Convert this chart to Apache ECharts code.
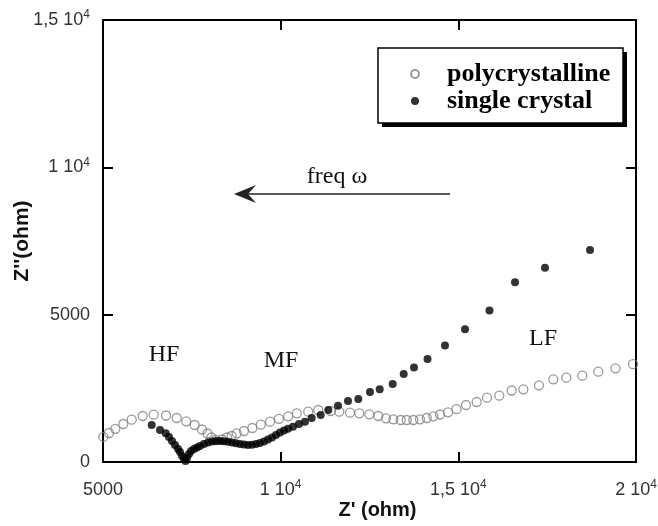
<!DOCTYPE html>
<html>
<head>
<meta charset="utf-8">
<script src="https://cdn.jsdelivr.net/npm/echarts@6/dist/echarts.min.js"></script>
<style>
html,body{margin:0;padding:0;background:#fff}
#main{width:658px;height:526px}
</style>
</head>
<body>
<div id="main"></div>
<script>
// 多晶数据 (Z', Z'')
var polyX=[5010,5169,5346,5571,5808,6117,6427,6773,7074,7341,7581,7786,7941,8053,8180,8349,8490,8622,8763,8968,9202,9441,9700,9953,10212,10454,10775,11059,11408,11650,11951,12213,12494,12748,12964,13170,13378,13547,13733,13921,14110,14296,14484,14709,14949,15216,15517,15807,16153,16502,16829,17270,17673,18039,18489,18939,19423,19916];
var polyY=[850,984,1127,1290,1436,1561,1605,1578,1493,1381,1256,1103,967,831,747,764,831,882,974,1052,1154,1266,1368,1466,1551,1653,1707,1765,1731,1707,1673,1653,1619,1561,1483,1449,1425,1425,1425,1449,1493,1551,1612,1687,1792,1934,2036,2182,2250,2427,2467,2603,2807,2861,2929,3065,3180,3319];
// 单晶数据
var singleX=[6371,6604,6765,6857,6942,7026,7111,7167,7223,7280,7322,7364,7420,7477,7561,7645,7730,7842,7955,8068,8180,8293,8405,8518,8630,8743,8856,8968,9081,9193,9306,9418,9531,9644,9756,9869,9981,10094,10206,10347,10516,10685,10873,11127,11341,11614,11895,12185,12514,12787,13153,13463,13752,14132,14625,15188,15877,16595,17439,18706];
var singleY=[1256,1086,974,848,713,577,441,339,204,102,30,136,271,373,441,492,543,611,662,696,713,713,702,686,662,635,611,594,577,587,611,645,696,764,831,916,1001,1069,1130,1198,1290,1368,1493,1595,1765,1907,2070,2138,2376,2467,2647,2986,3207,3496,3954,4503,5141,6098,6594,7195];
var seriesNames=["polycrystalline","single crystal"];
// 刻度
var xTicks=[5000,10000,15000,20000];
var xTickLabels=["5000","1 10^4","1,5 10^4","2 10^4"];
var yTicks=[0,5000,10000,15000];
var yTickLabels=["0","5000","1 10^4","1,5 10^4"];
// 标注 (数据坐标)
var notes=[
  {text:"HF",x:6717,y:3631},
  {text:"MF",x:10009,y:3428},
  {text:"LF",x:17383,y:4174},
  {text:"freq ω",x:11585,y:9672}
];
var arrowFrom=[14766,9095];
var arrowTo=[8687,9095];

var zip=function(a,b){
  var out=[];
  for(var i=0;i<a.length;i++){out.push([a[i],b[i]]);}
  return out;
}
// 10^4 上标
var tickFmt=function(ticks,labels){
  return function(v){
    var i=ticks.indexOf(v);
    if(i<0)return "";
    var p=labels[i].split("^");
    return p.length>1 ? "{n|"+p[0]+"}{e|"+p[1]+"}" : "{n|"+p[0]+"}";
  }
}
var tickRich={
  n:{fontSize:18,lineHeight:22,color:"#333",fontFamily:"Liberation Sans"},
  e:{fontSize:12,lineHeight:12,verticalAlign:"top",color:"#333",fontFamily:"Liberation Sans"}
};
var lineSty={color:"#000",width:2};

var chart=echarts.init(document.getElementById("main"));
chart.setOption({
  animation:false,
  backgroundColor:"#fff",
  grid:{left:103,right:22,top:20,bottom:64,containLabel:false,outerBoundsMode:"none"},
  legend:{
    data:seriesNames,
    orient:"vertical",
    left:410,
    top:61,
    padding:0,
    itemGap:1,
    itemWidth:8,
    itemHeight:8,
    icon:"circle",
    z:6,
    formatter:function(name){return "{t|"+name+"}";},
    textStyle:{
      rich:{t:{fontFamily:"Liberation Serif",fontWeight:"bold",fontSize:26,lineHeight:26,color:"#000",padding:[0,0,0,23]}}
    }
  },
  xAxis:[
    {
      type:"value",min:5000,max:20000,interval:5000,position:"bottom",
      axisLine:{onZero:false,lineStyle:lineSty},
      axisTick:{inside:true,length:10,lineStyle:lineSty},
      splitLine:{show:false},
      axisLabel:{margin:17,formatter:tickFmt(xTicks,xTickLabels),rich:tickRich},
      name:"Z' (ohm)",nameLocation:"middle",nameGap:38,nameMoveOverlap:false,
      nameTextStyle:{fontFamily:"Liberation Sans",fontWeight:"bold",fontSize:20,color:"#111",padding:[0,0,0,16]}
    },
    {
      type:"value",min:5000,max:20000,interval:5000,position:"top",
      axisLine:{onZero:false,lineStyle:lineSty},
      axisTick:{inside:true,length:10,lineStyle:lineSty},
      splitLine:{show:false},axisLabel:{show:false}
    }
  ],
  yAxis:[
    {
      type:"value",min:0,max:15000,interval:5000,position:"left",
      axisLine:{onZero:false,lineStyle:lineSty},
      axisTick:{inside:true,length:10,lineStyle:lineSty},
      splitLine:{show:false},
      axisLabel:{margin:13,formatter:tickFmt(yTicks,yTickLabels),rich:tickRich},
      name:"Z''(ohm)",nameLocation:"middle",nameGap:70,nameMoveOverlap:false,
      nameTextStyle:{fontFamily:"Liberation Sans",fontWeight:"bold",fontSize:21,color:"#111"}
    },
    {
      type:"value",min:0,max:15000,interval:5000,position:"right",
      axisLine:{onZero:false,lineStyle:lineSty},
      axisTick:{inside:true,length:10,lineStyle:lineSty},
      splitLine:{show:false},axisLabel:{show:false}
    }
  ],
  series:[
    {
      name:seriesNames[0],type:"scatter",xAxisIndex:0,yAxisIndex:0,
      data:zip(polyX,polyY),symbol:"circle",symbolSize:9,clip:false,z:2,
      itemStyle:{color:"rgba(255,255,255,0)",borderColor:"#808080",borderWidth:1.3},
      emphasis:{disabled:true}
    },
    {
      name:seriesNames[1],type:"scatter",xAxisIndex:0,yAxisIndex:0,
      data:zip(singleX,singleY),symbol:"circle",symbolSize:8,clip:false,z:3,
      itemStyle:{color:"#000"},
      emphasis:{disabled:true}
    }
  ]
});

// 标注文字与箭头
var toPx=function(p){return chart.convertToPixel({xAxisIndex:0,yAxisIndex:0},p);}
var graphics=[];
// 图例框和阴影
graphics.push({type:"rect",z:4,shape:{x:382,y:52,width:245,height:75},style:{fill:"#000"}});
graphics.push({type:"rect",z:5,shape:{x:378,y:48,width:245,height:75},style:{fill:"#fff",stroke:"#000",lineWidth:1.5}});
notes.forEach(function(item){
  var p=toPx([item.x,item.y]);
  graphics.push({
    type:"text",x:p[0],y:p[1],z:10,
    style:{text:item.text,font:'24px "Liberation Serif"',fill:"#111",
      textAlign:"center",textVerticalAlign:"middle",align:"center",verticalAlign:"middle"}
  });
});
var a0=toPx(arrowFrom),a1=toPx(arrowTo);
graphics.push({
  type:"line",z:10,
  shape:{x1:a0[0],y1:a0[1],x2:a1[0]+10,y2:a1[1]},
  style:{stroke:"#222",lineWidth:1.6}
});
graphics.push({
  type:"polygon",z:10,
  shape:{points:[[a1[0],a1[1]],[a1[0]+22,a1[1]-9],[a1[0]+14,a1[1]],[a1[0]+22,a1[1]+9]]},
  style:{fill:"#222"}
});
chart.setOption({graphic:graphics});
</script>
</body>
</html>
